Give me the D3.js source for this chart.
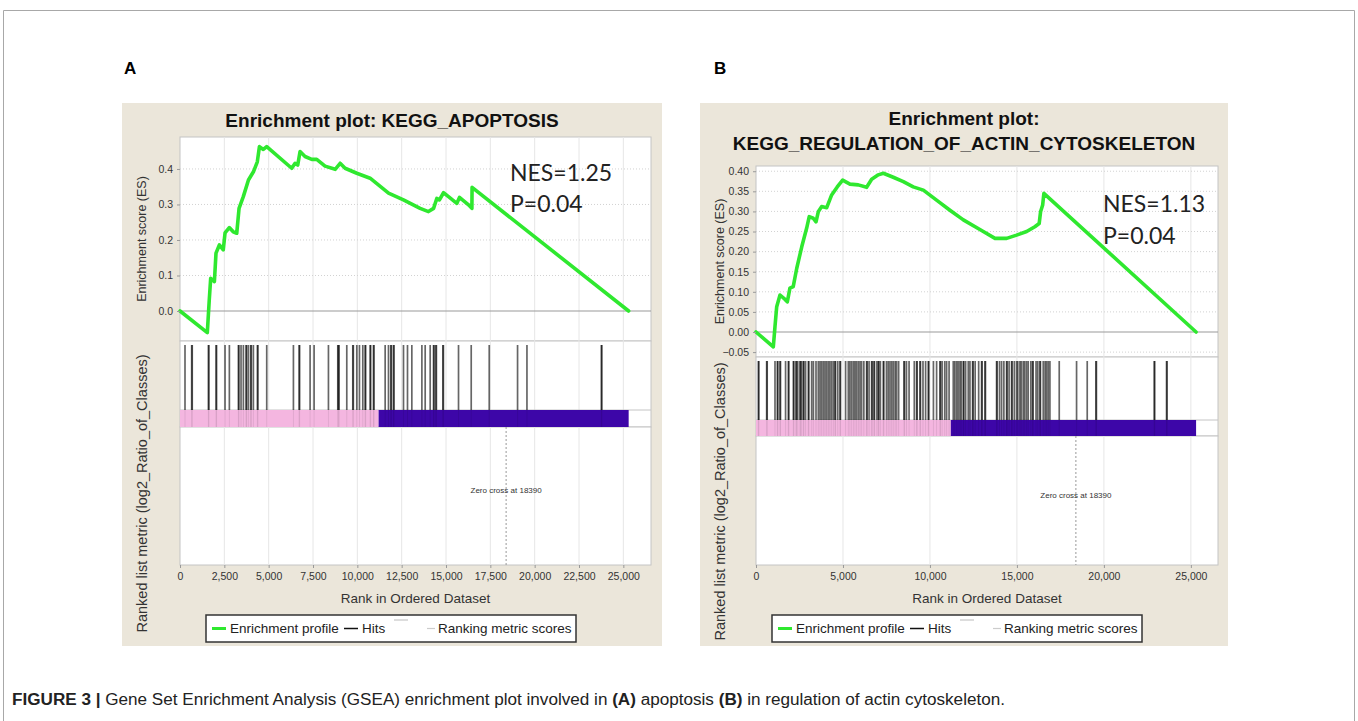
<!DOCTYPE html>
<html>
<head>
<meta charset="utf-8">
<script src="https://cdn.jsdelivr.net/npm/d3@7"></script>
<style>
  body { margin: 0; background: #fff; }
  svg { display: block; font-family: "Liberation Sans", Arial, sans-serif; }
</style>
</head>
<body>
<svg id="fig" width="1358" height="721"></svg>
<script>
// ---- data ----
const totalGenes = 25300;
const zeroCross = 18390;
const splitRank = 11200; // where the pink part of the class bar ends

const ranksA = [0, 1540, 1650, 1730, 1940, 2030, 2220, 2440, 2540, 2780, 3000, 3200, 3330, 3570, 3860, 4140, 4360, 4480, 4700, 4890, 6300, 6490, 6640, 6770, 7050, 7430, 7710, 8180, 8750, 9030, 9310, 9970, 10720, 11760, 12600, 13540, 14010, 14300, 14480, 14630, 14860, 15140, 15610, 15760, 16270, 16460, 16470, 25300];
const esA = [0, -0.061, 0.031, 0.092, 0.083, 0.163, 0.186, 0.172, 0.22, 0.235, 0.223, 0.219, 0.289, 0.322, 0.369, 0.392, 0.42, 0.463, 0.455, 0.463, 0.402, 0.416, 0.411, 0.449, 0.435, 0.427, 0.427, 0.408, 0.399, 0.416, 0.402, 0.388, 0.374, 0.332, 0.313, 0.289, 0.28, 0.289, 0.317, 0.313, 0.333, 0.322, 0.303, 0.32, 0.299, 0.289, 0.348, 0];
const hitsA = [282, 659, 690, 1600, 1630, 2032, 2062, 2540, 2784, 3292, 3322, 3442, 3574, 3725, 3755, 3857, 3988, 4018, 4138, 4364, 4394, 4891, 6396, 6716, 6746, 7336, 7562, 8371, 8898, 8928, 8973, 9405, 9744, 9774, 9970, 10120, 10308, 10440, 10470, 10722, 10752, 10910, 10940, 11569, 11757, 11888, 11918, 12039, 12069, 12603, 12829, 13073, 13640, 13826, 14108, 14296, 14326, 14428, 14458, 14823, 14853, 15706, 16422, 17438, 19035, 19565, 23758, 23788];

const ranksB = [0, 995, 1090, 1190, 1380, 1670, 1800, 1950, 2140, 2340, 2630, 2910, 3060, 3290, 3450, 3580, 3770, 4060, 4350, 4670, 4980, 5400, 5880, 6360, 6650, 7030, 7320, 7890, 8470, 9040, 9620, 10380, 11150, 11920, 12870, 13740, 14410, 14980, 15560, 16030, 16280, 16360, 16480, 16550, 25300];
const esB = [0, -0.037, 0.013, 0.063, 0.092, 0.081, 0.075, 0.109, 0.113, 0.158, 0.212, 0.258, 0.287, 0.283, 0.274, 0.299, 0.312, 0.309, 0.341, 0.361, 0.378, 0.368, 0.366, 0.36, 0.38, 0.391, 0.395, 0.385, 0.374, 0.361, 0.353, 0.328, 0.303, 0.279, 0.255, 0.233, 0.233, 0.241, 0.25, 0.262, 0.27, 0.299, 0.316, 0.345, 0];
const hitsB = [134, 164, 613, 643, 1092, 1226, 1256, 1379, 1409, 1700, 1858, 1888, 2146, 2176, 2299, 2329, 2400, 2529, 2559, 2620, 2720, 2750, 2850, 3008, 3038, 3200, 3300, 3450, 3582, 3680, 3774, 3870, 3966, 4060, 4157, 4250, 4349, 4450, 4540, 4570, 4700, 4828, 4858, 5150, 5307, 5400, 5498, 5600, 5690, 5780, 5881, 5980, 6073, 6200, 6360, 6390, 6500, 6648, 6678, 6782, 6812, 6950, 7031, 7061, 7150, 7318, 7348, 7500, 7600, 7701, 7800, 7893, 8000, 8084, 8200, 8506, 8536, 8650, 8800, 9100, 9234, 9264, 9425, 9455, 9600, 9750, 9904, 9934, 10200, 10383, 10575, 10605, 10700, 10850, 10958, 11100, 11341, 11430, 11533, 11620, 11724, 11800, 11916, 11946, 12050, 12203, 12300, 12452, 12482, 12600, 12800, 12969, 12999, 13161, 13191, 13831, 13861, 14000, 14119, 14250, 14406, 14436, 14550, 14693, 14723, 14850, 14981, 15050, 15172, 15250, 15364, 15450, 15556, 15650, 15800, 15900, 15930, 16100, 16200, 16322, 16352, 16513, 16620, 16705, 16800, 16897, 17433, 18429, 19042, 19540, 19570, 22892, 22922, 23602, 23632];

const xTicksA = [0, 2500, 5000, 7500, 10000, 12500, 15000, 17500, 20000, 22500, 25000];
const xTicksB = [0, 5000, 10000, 15000, 20000, 25000];
const yTicksA = [0, 0.1, 0.2, 0.3, 0.4];
const yTicksB = [-0.05, 0, 0.05, 0.1, 0.15, 0.2, 0.25, 0.3, 0.35, 0.4];

const titleA = ['Enrichment plot: KEGG_APOPTOSIS'];
const titleB = ['Enrichment plot:', 'KEGG_REGULATION_OF_ACTIN_CYTOSKELETON'];
const statsA = ['NES=1.25', 'P=0.04'];
const statsB = ['NES=1.13', 'P=0.04'];
const legendItems = ['Enrichment profile', 'Hits', 'Ranking metric scores'];

// ---- drawing ----
const green = '#2fe82f';
const svg = d3.select('#fig');

// figure frame
svg.append('path')
  .attr('d', 'M3.5,740 V10.5 H1354.5 V740')
  .attr('fill', 'none')
  .attr('stroke', '#a8a8a8');

drawPanel({
  label: 'A', labelX: 124,
  bg: [122, 103, 540, 543],
  title: titleA, titleY: [127],
  left: 180, right: 651, xMax: 26560,
  esTop: 137, esBottom: 341, esDomain: [-0.0845, 0.49],
  hitsBottom: 410, barBottom: 427, rankBottom: 565,
  ranks: ranksA, es: esA, hits: hitsA,
  xTicks: xTicksA, yTicks: yTicksA, yFormat: d3.format('.1f'),
  stats: statsA, statsX: 510, statsY: [181, 212],
  legendX: 206
});

drawPanel({
  label: 'B', labelX: 714,
  bg: [700, 103, 528, 543],
  title: titleB, titleY: [125, 150],
  left: 756, right: 1218, xMax: 26560,
  esTop: 166, esBottom: 357, esDomain: [-0.0622, 0.413],
  hitsBottom: 420, barBottom: 436, rankBottom: 565,
  ranks: ranksB, es: esB, hits: hitsB,
  xTicks: xTicksB, yTicks: yTicksB, yFormat: d3.format('.2f'),
  stats: statsB, statsX: 1103, statsY: [212, 244],
  legendX: 772
});

// caption
const cap = svg.append('text')
  .attr('x', 12).attr('y', 705)
  .attr('font-size', '16px').attr('fill', '#222')
  .attr('textLength', 993).attr('lengthAdjust', 'spacingAndGlyphs');
[['FIGURE 3 | ', 'bold'],
 ['Gene Set Enrichment Analysis (GSEA) enrichment plot involved in ', 'normal'],
 ['(A)', 'bold'], [' apoptosis ', 'normal'], ['(B)', 'bold'],
 [' in regulation of actin cytoskeleton.', 'normal']]
  .forEach(([t, w]) => cap.append('tspan').attr('font-weight', w).text(t));

function drawPanel(p) {
  const g = svg.append('g');
  const [bx, by, bw, bh] = p.bg;

  g.append('text')
    .attr('x', p.labelX).attr('y', 74)
    .attr('font-size', '17px').attr('font-weight', 'bold')
    .text(p.label);

  g.append('rect')
    .attr('x', bx).attr('y', by).attr('width', bw).attr('height', bh)
    .attr('fill', '#ebe6da');

  p.title.forEach((t, i) => {
    g.append('text')
      .attr('x', bx + bw / 2).attr('y', p.titleY[i])
      .attr('text-anchor', 'middle')
      .attr('font-size', '19px').attr('font-weight', 'bold').attr('fill', '#111')
      .text(t);
  });

  const x = d3.scaleLinear().domain([0, p.xMax]).range([p.left, p.right]);
  const y = d3.scaleLinear().domain(p.esDomain).range([p.esBottom, p.esTop]);
  const w = p.right - p.left;

  // white sub-plots
  [[p.esTop, p.esBottom], [p.esBottom, p.barBottom], [p.barBottom, p.rankBottom]]
    .forEach(([t, b]) => {
      g.append('rect')
        .attr('x', p.left).attr('y', t).attr('width', w).attr('height', b - t)
        .attr('fill', '#fff').attr('stroke', '#c4c4c4');
    });

  // vertical grid
  g.append('g')
    .selectAll('line')
    .data(p.xTicks.filter((d) => d > 0))
    .join('line')
    .attr('x1', (d) => x(d)).attr('x2', (d) => x(d))
    .attr('y1', p.esTop).attr('y2', p.rankBottom)
    .attr('stroke', '#e6e6e6');

  // horizontal grid in ES plot
  g.append('g')
    .selectAll('line')
    .data(p.yTicks.filter((d) => d !== 0))
    .join('line')
    .attr('x1', p.left).attr('x2', p.right)
    .attr('y1', (d) => y(d)).attr('y2', (d) => y(d))
    .attr('stroke', '#d2d2d2').attr('stroke-dasharray', '1,2');

  g.append('line')
    .attr('x1', p.left).attr('x2', p.right)
    .attr('y1', y(0)).attr('y2', y(0))
    .attr('stroke', '#9a9a9a').attr('stroke-width', 1.2);

  // enrichment profile
  const pts = p.ranks.map((r, i) => [r, p.es[i]]);
  g.append('path')
    .datum(pts)
    .attr('fill', 'none')
    .attr('stroke', green).attr('stroke-width', 3.6)
    .attr('stroke-linejoin', 'round').attr('stroke-linecap', 'round')
    .attr('d', d3.line().x((d) => x(d[0])).y((d) => y(d[1])));

  // y axis
  const ya = g.append('g')
    .attr('transform', `translate(${p.left},0)`)
    .call(d3.axisLeft(y).tickValues(p.yTicks).tickFormat(p.yFormat).tickSize(3).tickPadding(4));
  ya.select('.domain').remove();
  ya.selectAll('line').attr('stroke', '#999');
  ya.selectAll('text').attr('font-size', '10.5px').attr('fill', '#333')
    .attr('font-family', '"Liberation Sans", Arial, sans-serif');

  // hits
  g.append('line')
    .attr('x1', p.left).attr('x2', p.right)
    .attr('y1', p.hitsBottom).attr('y2', p.hitsBottom)
    .attr('stroke', '#c4c4c4');
  g.append('g')
    .selectAll('line')
    .data(p.hits)
    .join('line')
    .attr('x1', (d) => x(d)).attr('x2', (d) => x(d))
    .attr('y1', p.esBottom + 4).attr('y2', p.hitsBottom)
    .attr('stroke', '#000').attr('stroke-opacity', 0.6).attr('stroke-width', 1.7);

  // class bar
  g.append('rect')
    .attr('x', x(0)).attr('y', p.hitsBottom)
    .attr('width', x(splitRank) - x(0)).attr('height', p.barBottom - p.hitsBottom)
    .attr('fill', '#f4b6e0');
  g.append('rect')
    .attr('x', x(splitRank)).attr('y', p.hitsBottom)
    .attr('width', x(totalGenes) - x(splitRank)).attr('height', p.barBottom - p.hitsBottom)
    .attr('fill', '#3d06a8');
  g.append('g')
    .selectAll('line')
    .data(p.hits)
    .join('line')
    .attr('x1', (d) => x(d)).attr('x2', (d) => x(d))
    .attr('y1', p.hitsBottom).attr('y2', p.barBottom)
    .attr('stroke', '#000').attr('stroke-opacity', 0.08);

  // zero cross
  g.append('line')
    .attr('x1', x(zeroCross)).attr('x2', x(zeroCross))
    .attr('y1', p.barBottom).attr('y2', p.rankBottom)
    .attr('stroke', '#999').attr('stroke-dasharray', '2,2');
  g.append('text')
    .attr('x', x(zeroCross)).attr('y', (p.barBottom + p.rankBottom) / 2 - 3)
    .attr('text-anchor', 'middle')
    .attr('font-size', '8px').attr('fill', '#333')
    .text(`Zero cross at ${zeroCross}`);

  // x axis
  const xa = g.append('g')
    .attr('transform', `translate(0,${p.rankBottom})`)
    .call(d3.axisBottom(x).tickValues(p.xTicks).tickFormat(d3.format(',')).tickSize(3).tickPadding(5));
  xa.select('.domain').remove();
  xa.selectAll('line').attr('stroke', '#999');
  xa.selectAll('text').attr('font-size', '10.5px').attr('fill', '#333')
    .attr('font-family', '"Liberation Sans", Arial, sans-serif');

  g.append('text')
    .attr('x', (p.left + p.right) / 2).attr('y', 603)
    .attr('text-anchor', 'middle')
    .attr('font-size', '13.5px').attr('fill', '#333')
    .text('Rank in Ordered Dataset');

  // y titles
  const yt = bx + 20;
  g.append('text')
    .attr('transform', `translate(${yt},${(p.esTop + p.esBottom) / 2}) rotate(-90)`)
    .attr('text-anchor', 'middle').attr('dy', '0.35em')
    .attr('font-size', '12.5px').attr('fill', '#333')
    .text('Enrichment score (ES)');
  g.append('text')
    .attr('transform', `translate(${yt},${(p.esBottom + bh + by) / 2}) rotate(-90)`)
    .attr('text-anchor', 'middle').attr('dy', '0.35em')
    .attr('font-size', '14.5px').attr('fill', '#333')
    .text('Ranked list metric (log2_Ratio_of_Classes)');

  // NES / P
  p.stats.forEach((t, i) => {
    g.append('text')
      .attr('x', p.statsX).attr('y', p.statsY[i])
      .attr('font-family', 'Lato, "Open Sans", sans-serif')
      .attr('font-size', '23px').attr('fill', '#222')
      .text(t);
  });

  // legend
  const lx = p.legendX, ly = 615, mid = 628.5;
  const lg = g.append('g');
  lg.append('rect')
    .attr('x', lx).attr('y', ly).attr('width', 370).attr('height', 27)
    .attr('fill', '#fff').attr('stroke', '#333').attr('stroke-width', 1.5);
  lg.append('line').attr('x1', lx + 6).attr('x2', lx + 20).attr('y1', mid).attr('y2', mid)
    .attr('stroke', green).attr('stroke-width', 3);
  lg.append('line').attr('x1', lx + 138).attr('x2', lx + 152).attr('y1', mid).attr('y2', mid)
    .attr('stroke', '#111').attr('stroke-width', 1.5);
  lg.append('line').attr('x1', lx + 188).attr('x2', lx + 202).attr('y1', ly + 5).attr('y2', ly + 5)
    .attr('stroke', '#ddd').attr('stroke-width', 2);
  lg.append('line').attr('x1', lx + 221).attr('x2', lx + 229).attr('y1', mid).attr('y2', mid)
    .attr('stroke', '#ccc').attr('stroke-width', 1.2);
  [[24, legendItems[0]], [156, legendItems[1]], [232, legendItems[2]]].forEach(([dx, t]) => {
    lg.append('text')
      .attr('x', lx + dx).attr('y', mid + 4.8)
      .attr('font-size', '13.5px').attr('fill', '#222')
      .text(t);
  });
}
</script>
</body>
</html>
